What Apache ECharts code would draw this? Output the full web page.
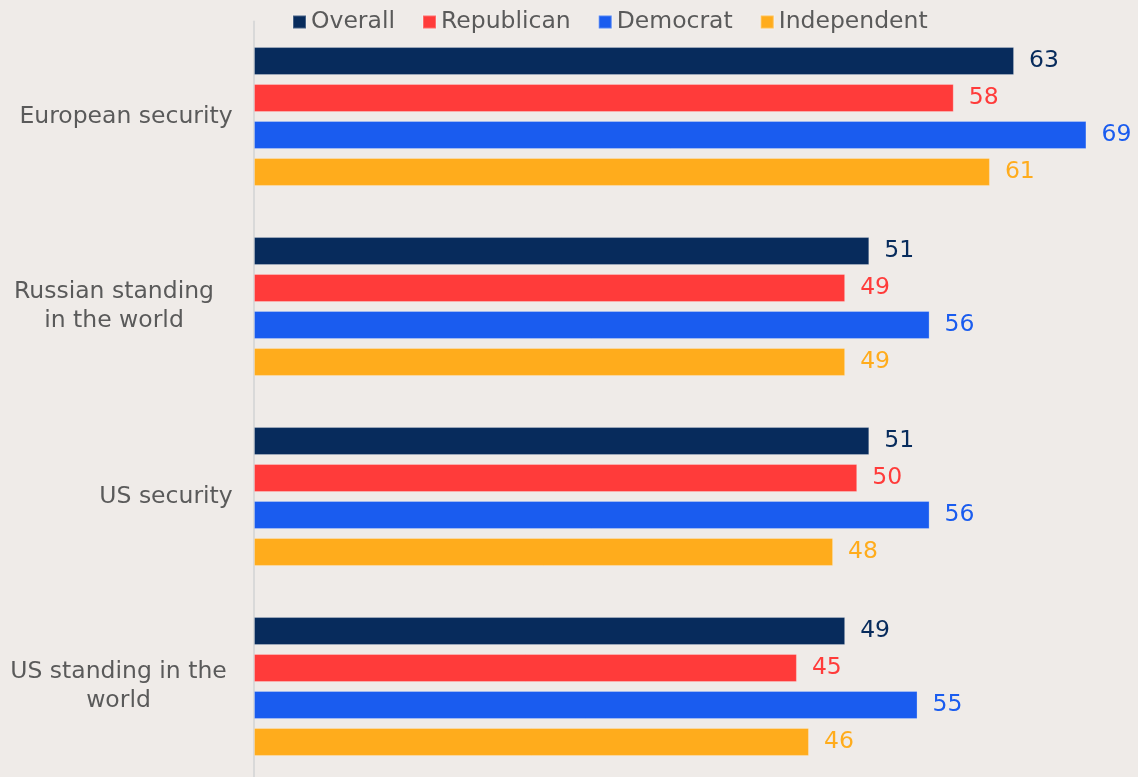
<!DOCTYPE html>
<html><head><meta charset="utf-8">
<script src="https://cdn.jsdelivr.net/npm/echarts@6/dist/echarts.min.js"></script>
<style>html,body{margin:0;padding:0;background:#efebe8;overflow:hidden;}#c{width:1138px;height:800px;}</style>
</head><body><div id="c"></div>
<script>
const categories = ["European security", "Russian standing\nin the world", "US security", "US standing in the\nworld"];
const seriesNames = ["Overall", "Republican", "Democrat", "Independent"];
const overall = [63, 51, 51, 49];
const republican = [58, 49, 50, 45];
const democrat = [69, 56, 56, 55];
const independent = [61, 49, 48, 46];
const colors = ["#072b5c", "#ff3b3a", "#1a5cef", "#ffac1c"];
const FONT = "DejaVu Sans";
const FS = 23.5;
const TXT = '#5a5a5a';
// style only: extra right inset of the wrapped label blocks
const labelInset = [0, 19, 0, 6];

// measure label widths so multi-line labels are centered within their block
const cv = document.createElement('canvas').getContext('2d');
cv.font = FS + 'px "' + FONT + '"';
const rich = {};
categories.forEach((c, i) => {
  const w = Math.max(...c.split('\n').map(l => cv.measureText(l).width));
  rich['c' + i] = {width: Math.ceil(w), align: 'center', fontSize: FS, fontFamily: FONT, color: TXT, lineHeight: 29,
                   padding: [0, labelInset[i], 0, 0]};
});

const data = [overall, republican, democrat, independent];
const chart = echarts.init(document.getElementById('c'));
chart.setOption({
  backgroundColor: '#efebe8',
  textStyle: {fontFamily: FONT},
  legend: {
    left: 287, top: 5, itemWidth: 13, itemHeight: 13, itemGap: 27, icon: 'rect',
    textStyle: {fontSize: FS, color: TXT, fontFamily: FONT},
    data: seriesNames
  },
  grid: {left: 254, top: 21.5, width: 844.5, height: 760},
  xAxis: {type: 'value', min: 0, max: 70, show: false, splitLine: {show: false}},
  yAxis: {
    type: 'category', inverse: true, data: categories,
    axisLine: {show: true, lineStyle: {color: '#d9d9d9', width: 2}},
    axisTick: {show: false},
    axisLabel: {
      margin: 21, align: 'right',
      formatter: (v, i) => '{c' + i + '|' + v + '}',
      rich: rich
    }
  },
  series: seriesNames.map((n, k) => ({
    name: n, type: 'bar', data: data[k], barWidth: 28, barGap: '32%',
    itemStyle: {color: colors[k], borderColor: 'rgba(255,255,255,0.25)', borderWidth: 1},
    label: {show: true, position: 'right', distance: 15, fontSize: FS, color: colors[k], fontFamily: FONT},
    animation: false
  })),
  animation: false
});
</script></body></html>
